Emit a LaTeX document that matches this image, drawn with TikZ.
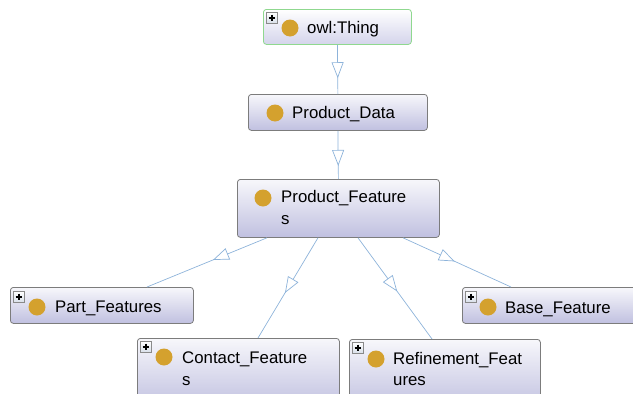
\documentclass[tikz,border=0pt]{standalone}
\usepackage{fontspec}
\setmainfont{Liberation Sans}
\usetikzlibrary{arrows.meta,decorations.markings}

\definecolor{edgeblue}{HTML}{8DB3DA}
\definecolor{boxline}{HTML}{7C7C7C}
\definecolor{boxtop}{HTML}{F7F7FB}
\definecolor{boxbottom}{HTML}{C0C0E0}
\definecolor{rootline}{HTML}{8FD88F}
\definecolor{roottop}{HTML}{FFFFFF}
\definecolor{rootbottom}{HTML}{D4D4EB}
\definecolor{dotgold}{HTML}{D4A12E}
\definecolor{iconline}{HTML}{8A8A8A}
\definecolor{iconfill}{HTML}{D8DFEA}

\tikzset{
  classbox/.style={draw=boxline, line width=0.8pt, rounded corners=3pt,
    top color=boxtop, bottom color=boxbottom, inner sep=0pt, anchor=north west},
  rootbox/.style={classbox, draw=rootline, top color=roottop, bottom color=rootbottom},
  classdot/.style={circle, fill=dotgold, minimum size=17pt, inner sep=0pt},
  classname/.style={anchor=base west, inner sep=0pt,
    font=\fontsize{16.8}{20}\selectfont},
  plusicon/.style={anchor=north west, minimum size=11pt, inner sep=0pt,
    draw=iconline, line width=0.6pt, top color=white, bottom color=iconfill,
    path picture={\draw[black, line width=1.5pt]
      ([xshift=2.2pt]path picture bounding box.west) --
      ([xshift=-2.2pt]path picture bounding box.east)
      ([yshift=-2.2pt]path picture bounding box.north) --
      ([yshift=2.2pt]path picture bounding box.south);}},
  subclass/.style={color=edgeblue, line width=0.7pt, postaction={decorate},
    decoration={markings, mark=at position #1 with
      {\arrow{Triangle[open, length=16pt, width=12pt, fill=white]}}}},
}

\begin{document}
\begin{tikzpicture}[x=1pt, y=-1pt]
\useasboundingbox (0,0) rectangle (633,394);
\clip (0,0) rectangle (633,394);

% class boxes
\node[rootbox,  minimum width=148pt, minimum height=35pt] (thing)   at (263,9)   {};
\node[classbox, minimum width=179pt, minimum height=36pt] (pd)      at (248,94)  {};
\node[classbox, minimum width=202pt, minimum height=58pt] (pf)      at (237,179) {};
\node[classbox, minimum width=183pt, minimum height=36pt] (part)    at (10,287)  {};
\node[classbox, minimum width=202pt, minimum height=70pt] (contact) at (137,338) {};
\node[classbox, minimum width=191pt, minimum height=70pt] (refine)  at (349,339) {};
\node[classbox, minimum width=200pt, minimum height=36pt] (base)    at (462,287) {};

% subclass connectors
\draw[subclass=0.68] (thing.south) -- (pd.north);
\draw[subclass=0.73] (pd.south) -- (pf.north);
\draw[subclass=0.45] ([xshift=30pt]pf.south west)  -- ([xshift=137pt]part.north west);
\draw[subclass=0.55] ([xshift=81pt]pf.south west)  -- ([xshift=121pt]contact.north west);
\draw[subclass=0.53] ([xshift=121pt]pf.south west) -- ([xshift=83pt]refine.north west);
\draw[subclass=0.48] ([xshift=166pt]pf.south west) -- ([xshift=49pt]base.north west);

% expand icons
\node[plusicon] (thingplus)   at (266,12)  {};
\node[plusicon] (partplus)    at (13,291)  {};
\node[plusicon] (contactplus) at (140,341) {};
\node[plusicon] (refineplus)  at (352,342) {};
\node[plusicon] (baseplus)    at (465,291) {};

% class markers
\node[classdot] (thingdot)   at (290,28)  {};
\node[classdot] (pddot)      at (275,113) {};
\node[classdot] (pfdot)      at (263,198) {};
\node[classdot] (partdot)    at (37,307)  {};
\node[classdot] (contactdot) at (164,357) {};
\node[classdot] (refinedot)  at (376,359) {};
\node[classdot] (basedot)    at (488,307) {};

% class names
\node[classname] (thingname)    at (307,33)  {owl:Thing};
\node[classname] (pdname)       at (292,118) {Product\_Data};
\node[classname] (pfname)       at (281,202) {Product\_Feature};
\node[classname] (pfname2)      at (281,224) {s};
\node[classname] (partname)     at (55,312)  {Part\_Features};
\node[classname] (contactname)  at (182,363) {Contact\_Feature};
\node[classname] (contactname2) at (182,385) {s};
\node[classname] (refinename)   at (393,364) {Refinement\_Feat};
\node[classname] (refinename2)  at (393,385) {ures};
\node[classname] (basename)     at (505,313) {Base\_Feature};
\end{tikzpicture}
\end{document}
